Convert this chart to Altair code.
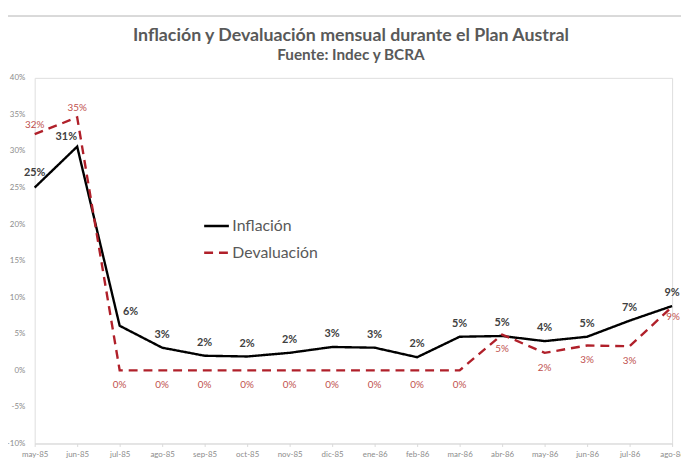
import altair as alt
import pandas as pd

meses = ["may-85", "jun-85", "jul-85", "ago-85", "sep-85", "oct-85", "nov-85", "dic-85",
         "ene-86", "feb-86", "mar-86", "abr-86", "may-86", "jun-86", "jul-86", "ago-86"]
inflacion = [25.0, 30.6, 6.1, 3.1, 2.0, 1.9, 2.4, 3.2, 3.1, 1.8, 4.6, 4.7, 4.0, 4.6, 6.8, 8.8]
devaluacion = [32.3, 34.6, 0.0, 0.0, 0.0, 0.0, 0.0, 0.0, 0.0, 0.0, 0.0, 4.9, 2.4, 3.4, 3.3, 8.7]
series = ["Inflación", "Devaluación"]
y_ticks = [-10, -5, 0, 5, 10, 15, 20, 25, 30, 35, 40]
titulo = "Inflación y Devaluación mensual durante el Plan Austral"
subtitulo = "Fuente: Indec y BCRA"

rows = []
for i, m in enumerate(meses):
    rows.append({"mes": m, "idx": i, "serie": series[0], "valor": inflacion[i]})
    rows.append({"mes": m, "idx": i, "serie": series[1], "valor": devaluacion[i]})
df = pd.DataFrame(rows)

FONT = "Lato"
GRAY = "#595959"
RED = "#B0202A"
RED_LBL = "#C0504D"

x_enc = alt.X("mes:N", sort=meses,
              scale=alt.Scale(type="point", padding=0),
              axis=alt.Axis(title=None, labelAngle=0, labelFontSize=8, labelColor="#8c8c8c",
                            labelFont=FONT, domainColor="#d9d9d9", tickColor="#d9d9d9",
                            tickSize=3, labelPadding=4, grid=False, labelOverlap=False))
y_enc = alt.Y("valor:Q", scale=alt.Scale(domain=[-10, 40], nice=False, zero=False),
              axis=alt.Axis(title=None, values=y_ticks, labelExpr="datum.value + '%'",
                            labelFontSize=8, labelColor="#8c8c8c", labelFont=FONT,
                            domain=False, ticks=False, grid=False, labelPadding=10,
                            labelOverlap=False, labelFlush=False))

legend_cfg = dict(title=None, orient="none", legendX=170, legendY=136,
                  symbolType="stroke", symbolSize=625, symbolStrokeWidth=2.6,
                  labelFontSize=16, labelColor=GRAY, labelFont=FONT, labelOffset=2,
                  rowPadding=5, padding=0)

base = alt.Chart(df)

lines = base.mark_line(strokeWidth=2.4).encode(
    x=x_enc, y=y_enc,
    color=alt.Color("serie:N", sort=series,
                    scale=alt.Scale(domain=series, range=["#000000", RED]),
                    legend=alt.Legend(**legend_cfg)),
    strokeDash=alt.StrokeDash("serie:N", sort=series,
                              scale=alt.Scale(domain=series, range=[[1, 0], [9, 6]]),
                              legend=alt.Legend(**legend_cfg)),
)

def labels(serie, cond, dx, dy, color, bold):
    return base.transform_filter(
        alt.datum.serie == serie
    ).transform_filter(cond).transform_calculate(
        lbl="round(datum.valor) + '%'"
    ).mark_text(dx=dx, dy=dy, fontSize=11 if bold else 10, font=FONT, color=color,
                fontWeight="bold" if bold else "normal", baseline="middle").encode(
        x=x_enc, y=y_enc, text="lbl:N")

inf_lbl_main = labels("Inflación", "datum.idx > 2", 0, -13, "#404040", True)
inf_lbl_0 = labels("Inflación", "datum.idx == 0", 0, -15, "#404040", True)
inf_lbl_1 = labels("Inflación", "datum.idx == 1", -11, -10, "#404040", True)
inf_lbl_2 = labels("Inflación", "datum.idx == 2", 11, -14, "#404040", True)
dev_lbl_top = labels("Devaluación", "datum.idx < 2", 0, -9, RED_LBL, False)
dev_lbl_main = labels("Devaluación", "datum.idx >= 2 && datum.idx < 15", 0, 15, RED_LBL, False)
dev_lbl_last = labels("Devaluación", "datum.idx == 15", 1, 10, RED_LBL, False)

border = alt.Chart(df).mark_rule(color="#d9d9d9", strokeWidth=1).encode(
    x=alt.value(-29), x2=alt.value(670), y=alt.value(-63))

title_df = pd.DataFrame({"t": [titulo]})
sub_df = pd.DataFrame({"t": [subtitulo]})
title_mark = alt.Chart(title_df).mark_text(
    font=FONT, fontSize=18, fontWeight="bold", color=GRAY, baseline="middle", align="center"
).encode(text="t:N", x=alt.value(320), y=alt.value(-42))
sub_mark = alt.Chart(sub_df).mark_text(
    font=FONT, fontSize=15.5, fontWeight="bold", color=GRAY, baseline="middle", align="center"
).encode(text="t:N", x=alt.value(320), y=alt.value(-23))

chart = alt.layer(
    border, lines, inf_lbl_main, inf_lbl_0, inf_lbl_1, inf_lbl_2,
    dev_lbl_top, dev_lbl_main, dev_lbl_last, title_mark, sub_mark
).properties(
    width=645, height=370,
    autosize=alt.AutoSizeParams(type="none"),
    padding={"left": 27, "top": 68, "right": 9, "bottom": 13},
).configure_view(strokeWidth=0).configure(background="white")

chart.save("out.html", embed_options={"renderer": "svg", "actions": False})
